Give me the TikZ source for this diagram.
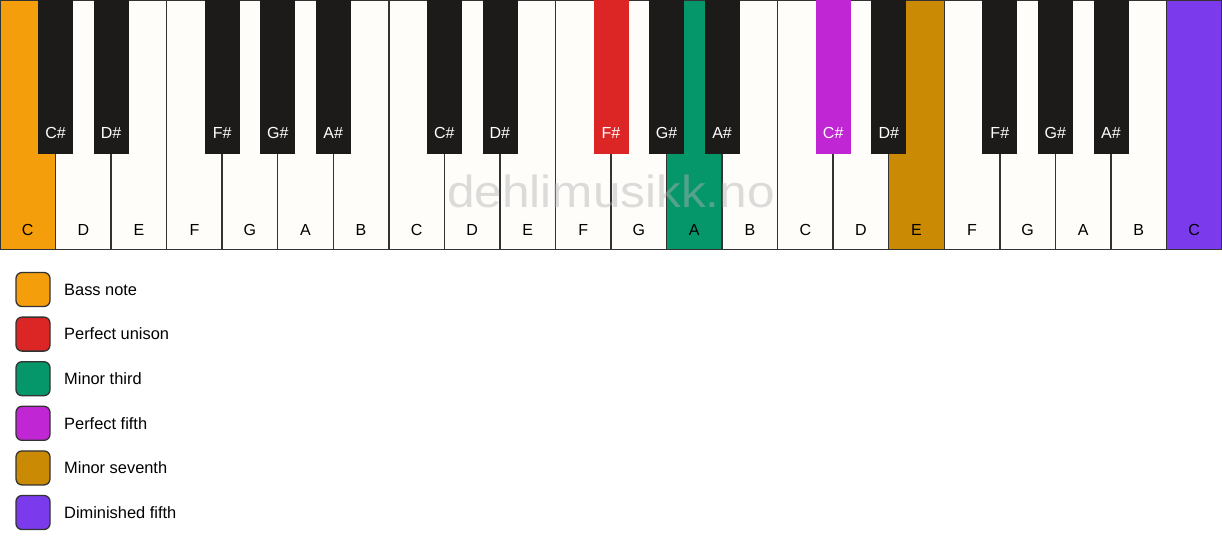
\documentclass[tikz,border=0pt]{standalone}
\usepackage{fontspec}
\setmainfont{Liberation Sans}
\definecolor{wfill}{HTML}{FEFDFA}
\definecolor{bfill}{HTML}{1C1B19}
\definecolor{edge}{HTML}{333333}
\definecolor{cBass}{HTML}{F59E0B}
\definecolor{cUni}{HTML}{DC2626}
\definecolor{cMin}{HTML}{059669}
\definecolor{cFif}{HTML}{C026D3}
\definecolor{cSev}{HTML}{CA8A04}
\definecolor{cDim}{HTML}{7C3AED}
\begin{document}
\begin{tikzpicture}[x=1pt,y=-1pt,
  wkey/.style={draw=edge,line width=1.4pt,fill=wfill},
  bkey/.style={draw=bfill,line width=0.8pt,fill=bfill},
  wlab/.style={font=\fontsize{16}{18}\selectfont,text=black},
  blab/.style={font=\fontsize{16}{18}\selectfont,text=white},
  swatch/.style={draw=edge,line width=1.3pt,rounded corners=6pt,minimum width=34pt,minimum height=34pt,inner sep=0pt},
  legtext/.style={font=\fontsize{16.4}{18}\selectfont,anchor=west,inner sep=0pt}]
\useasboundingbox (0,0) rectangle (1222,550);
\fill[white] (0,0) rectangle (1222,550);
\def\w{55.545}
% white keys
\foreach \i/\n/\c in {0/C/cBass,1/D/wfill,2/E/wfill,3/F/wfill,4/G/wfill,5/A/wfill,6/B/wfill,
  7/C/wfill,8/D/wfill,9/E/wfill,10/F/wfill,11/G/wfill,12/A/cMin,13/B/wfill,
  14/C/wfill,15/D/wfill,16/E/cSev,17/F/wfill,18/G/wfill,19/A/wfill,20/B/wfill,21/C/cDim}{
  \draw[wkey,fill=\c] ({\i*\w},0.7) rectangle ({(\i+1)*\w},249.3);
  \node[wlab] (wl\i) at ({(\i+0.5)*\w},230) {\n};
}
% watermark
\node[anchor=base,inner sep=0pt,font=\fontsize{45}{48}\selectfont,text=gray!60,opacity=0.45] (wm) at (611,207) {\scalebox{1.1}[1]{dehlimusikk.no}};
% black keys
\foreach \b/\n/\c in {1/C\#/bfill,2/D\#/bfill,4/F\#/bfill,5/G\#/bfill,6/A\#/bfill,
  8/C\#/bfill,9/D\#/bfill,11/F\#/cUni,12/G\#/bfill,13/A\#/bfill,
  15/C\#/cFif,16/D\#/bfill,18/F\#/bfill,19/G\#/bfill,20/A\#/bfill}{
  \draw[bkey,fill=\c,draw=\c] ({\b*\w-17},0) rectangle ({\b*\w+17},153);
  \node[blab] (bl\b) at ({\b*\w},133) {\n};
}
% legend
\foreach \k/\c/\t in {0/cBass/Bass note,1/cUni/Perfect unison,2/cMin/Minor third,
  3/cFif/Perfect fifth,4/cSev/Minor seventh,5/cDim/Diminished fifth}{
  \node[swatch,fill=\c] (sw\k) at (33,{289.5+\k*44.6}) {};
  \node[legtext] (lt\k) at (64,{289.5+\k*44.6}) {\t};
}
\end{tikzpicture}
\end{document}
